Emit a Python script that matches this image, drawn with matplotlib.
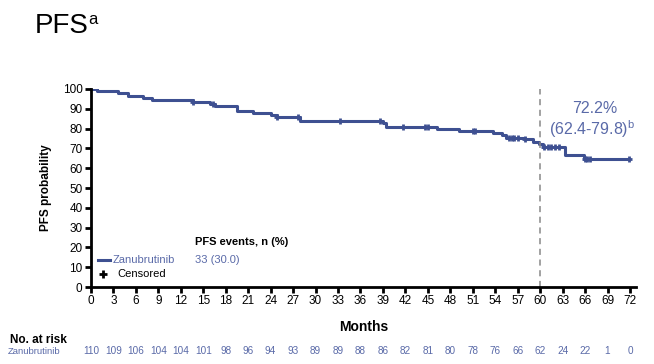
import matplotlib
matplotlib.use('Agg')
import matplotlib.pyplot as plt

plt.rcParams['font.family'] = ['Liberation Sans', 'DejaVu Sans']
plt.rcParams['mathtext.fontset'] = 'custom'
plt.rcParams['mathtext.rm'] = 'Liberation Sans'

# KM step points (months, PFS %)
times = [0, 0.8, 3.6, 5.0, 7.0, 8.1, 13.7, 15.9, 16.6, 19.5, 21.7, 24.0, 24.8,
         27.9, 39.0, 39.4, 46.2, 49.1, 53.7, 54.9, 55.5, 58.0, 59.0, 59.8,
         60.4, 63.3, 65.8, 71.8]
surv = [100, 99.1, 98.2, 96.4, 95.5, 94.5, 93.5, 92.6, 91.6, 88.7, 87.8, 86.9, 85.9,
        84.0, 82.9, 80.9, 79.9, 78.8, 77.7, 76.6, 75.5, 74.5, 73.3, 72.2,
        70.9, 66.8, 64.5, 64.5]
censor_t = [13.7, 16.3, 24.8, 27.7, 33.3, 38.6, 41.7, 44.6, 45.0, 51.0, 51.3,
            55.8, 56.2, 56.5, 57.0, 58.0, 60.5, 61.0, 61.5, 62.0, 62.5,
            66.0, 66.3, 66.7, 71.8]

month_ticks = list(range(0, 73, 3))
at_risk = [110, 109, 106, 104, 104, 101, 98, 96, 94, 93, 89, 89, 88, 86, 82,
           81, 80, 78, 76, 66, 62, 24, 22, 1, 0]

line_c = '#3e5091'
text_c = '#5a6aa8'


def surv_at(t):
    s = surv[0]
    for ti, si in zip(times, surv):
        if ti <= t:
            s = si
    return s


fig = plt.figure(figsize=(6.54, 3.64), dpi=100)
ax = fig.add_axes([0.139, 0.2115, 0.8335, 0.544])

ax.step(times, surv, where='post', color=line_c, lw=2.2)
ax.plot(censor_t, [surv_at(t) for t in censor_t], ls='none', marker='+',
        ms=5, mew=2, color=line_c)
ax.axvline(60, color='#888888', lw=1.1, ls=(0, (4, 3)))

ax.set_xlim(0, 72.8)
ax.set_ylim(0, 100)
ax.set_xticks(month_ticks)
ax.set_yticks(range(0, 101, 10))
for s in ['top', 'right']:
    ax.spines[s].set_visible(False)
for s in ['left', 'bottom']:
    ax.spines[s].set_linewidth(2.0)
ax.tick_params(width=2.0, length=4, labelsize=8.5, pad=2)
ax.set_xlabel('Months', fontsize=10, fontweight='bold', labelpad=9)
ax.set_ylabel('PFS probability', fontsize=8.5, fontweight='bold', labelpad=8)

# annotation at 60 months
ax.text(67.3, 90.4, '72.2%', color=text_c, fontsize=11.5, ha='center', va='center')
ax.text(67.0, 79.8, r'(62.4-79.8)$^{\mathrm{b}}$', color=text_c, fontsize=11.5,
        ha='center', va='center')

# legend block
ax.text(13.9, 22.7, 'PFS events, n (%)', fontsize=8, fontweight='bold', va='center')
ax.plot([0.9, 2.5], [13.6, 13.6], color=line_c, lw=2.2, clip_on=False)
ax.text(2.9, 13.6, 'Zanubrutinib', fontsize=8, color=text_c, va='center')
ax.text(13.9, 13.6, '33 (30.0)', fontsize=8, color=text_c, va='center')
ax.plot([1.6], [6.6], marker='+', ms=6, mew=2, color='black', clip_on=False)
ax.text(3.6, 6.6, 'Censored', fontsize=8, color='black', va='center')

# title
fig.text(35 / 654, 1 - 33 / 364, 'PFS', fontsize=20, va='baseline')
fig.text(88 / 654, 1 - 24 / 364, 'a', fontsize=12, va='baseline')

# number at risk table
fig.text(10 / 654, 1 - 340 / 364, 'No. at risk', fontsize=8.5, fontweight='bold',
         va='center')
fig.text(8 / 654, 1 - 351 / 364, 'Zanubrutinib', fontsize=6.8, color=text_c,
         va='center')
row_y = -(351 - 287) / (0.544 * 364)
for m, n in zip(month_ticks, at_risk):
    ax.text(m, row_y, str(n), transform=ax.get_xaxis_transform(), ha='center',
            va='center', fontsize=7.2, color=text_c, clip_on=False)

fig.savefig('out.png', dpi=100)
